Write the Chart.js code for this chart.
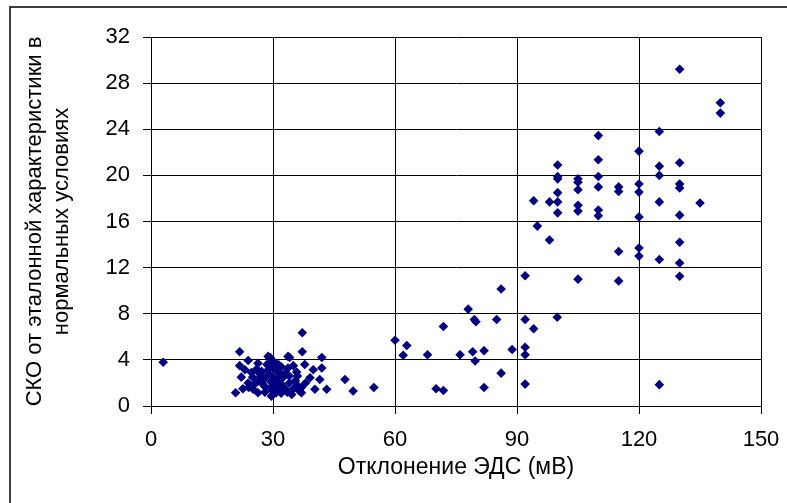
<!DOCTYPE html>
<html>
<head>
<meta charset="utf-8">
<script src="https://cdn.jsdelivr.net/npm/chart.js@4.4.0/dist/chart.umd.min.js"></script>
<style>
  html, body { margin: 0; padding: 0; background: #fff; }
  canvas { display: block; }
</style>
</head>
<body>
<canvas id="scatterChart" width="787" height="503"></canvas>
<script>
// Отклонение ЭДС (мВ) / СКО — кластер малых отклонений
const lowX = [3, 20.8, 21.8, 21.8, 22.2, 22.6, 23.1, 23.9, 23.9, 24.7, 25.1, 26.3, 26.3, 26.3, 27.2, 28, 28.8, 28.8, 29.3,
  29.6, 29.6, 30, 30, 30.8, 31.3, 31.7, 33.7, 33.7, 34.1, 34.6, 35.8, 37, 37, 37.2, 37.2, 37.8, 39.1, 39.9, 40.3, 41.5,
  42, 42, 43.2, 47.7, 49.7,
  25, 26, 27, 27.5, 28, 28.5, 29, 29.5, 30, 30, 30, 30.5, 31, 31, 31.5, 32, 32, 32.5, 33, 33, 34, 34, 35, 35, 35.5,
  36, 36, 25.5, 24, 28, 32, 33.5, 36.5, 38, 26.5, 29];
const lowY = [3.8, 1.15, 4.7, 3.5, 2.5, 1.5, 3.15, 3.95, 2.0, 2.9, 1.45, 3.7, 2.15, 1.15, 3.0, 1.7, 4.3, 3.15, 4.2,
  1.45, 0.85, 3.3, 1.0, 1.15, 3.6, 2.7, 4.3, 3.3, 4.2, 1.0, 2.95, 1.6, 1.15, 6.35, 4.7, 3.6, 2.45, 3.15, 1.45, 2.3,
  4.2, 3.3, 1.45, 2.3, 1.3,
  2.5, 3.2, 2.6, 1.9, 2.4, 3.6, 2.8, 2.1, 3.9, 2.5, 1.8, 1.4, 3.0, 2.2, 1.6, 3.4, 1.9, 2.5, 1.5, 2.9, 2.0, 2.6, 1.5, 3.5, 2.2,
  1.8, 2.6, 1.9, 1.6, 1.2, 1.1, 1.2, 1.3, 2.0, 2.9, 3.5];

// переходная зона
const midX = [54.8, 60, 62.9, 62, 68, 71.9, 70.1, 71.9, 76, 78, 79.5, 79.9, 79.1, 81.9, 79.7, 81.9, 85, 86.1, 86.1,
  88.8, 92, 92, 94.1, 99.9, 92, 92, 92];
const midY = [1.6, 5.7, 5.25, 4.4, 4.45, 6.9, 1.5, 1.35, 4.45, 8.4, 7.5, 7.3, 4.7, 4.8, 3.9, 1.6, 7.5, 10.15, 2.85,
  4.9, 11.3, 7.5, 6.7, 7.7, 5.1, 4.45, 1.9];

// большие отклонения
const highX = [94.1, 95, 98, 98, 100, 100, 100, 100, 100, 100, 105, 105, 105, 105, 105, 105, 110, 110, 110, 110, 110, 110,
  115, 115, 115, 115, 120, 120, 120, 120, 120, 120, 125, 125, 125, 125, 125, 125, 130, 130, 130, 130, 130, 130, 130, 130,
  135, 140, 140];
const highY = [17.8, 15.6, 17.7, 14.4, 20.9, 19.9, 19.7, 18.5, 17.7, 16.75, 19.7, 19.4, 18.75, 17.4, 16.9, 11.0, 23.45,
  21.35, 19.9, 19.0, 17.0, 16.5, 19.0, 18.6, 13.4, 10.85, 22.1, 19.25, 18.55, 16.4, 13.7, 13.0, 23.8, 20.8, 20.0, 17.7,
  12.7, 1.85, 29.2, 21.1, 19.25, 18.9, 16.55, 14.2, 12.4, 11.25, 17.6, 26.3, 25.4];

const xTicks = [0, 30, 60, 90, 120, 150];
const yTicks = [0, 4, 8, 12, 16, 20, 24, 28, 32];

const xTitle = "Отклонение ЭДС (мВ)";
const yTitle = ["СКО от эталонной характеристики в", "нормальных условиях"];

function toPoints(xs, ys) {
  return xs.map((x, i) => ({ x: x, y: ys[i] }));
}

const allPoints = [].concat(toPoints(lowX, lowY), toPoints(midX, midY), toPoints(highX, highY));

const FONT = "'Liberation Sans', Arial, sans-serif";

// рамка вокруг диаграммы (видны левая и верхняя стороны)
const framePlugin = {
  id: "frame",
  beforeDraw(chart) {
    const ctx = chart.ctx;
    ctx.save();
    ctx.fillStyle = "#fff";
    ctx.fillRect(0, 0, chart.width, chart.height);
    ctx.strokeStyle = "#000";
    ctx.lineWidth = 1.5;
    ctx.beginPath();
    ctx.moveTo(10, chart.height);
    ctx.lineTo(10, 7);
    ctx.lineTo(chart.width, 7);
    ctx.stroke();
    ctx.restore();
  },
};

new Chart(document.getElementById("scatterChart"), {
  type: "scatter",
  data: {
    datasets: [
      {
        data: allPoints,
        pointStyle: "rectRot",
        pointRadius: 4.8,
        pointHoverRadius: 4.8,
        pointBorderWidth: 0,
        backgroundColor: "#000080",
        borderColor: "#000080",
      },
    ],
  },
  options: {
    responsive: false,
    animation: false,
    events: [],
    layout: { padding: { left: 0, top: 37, right: 26, bottom: 0 } },
    plugins: { legend: { display: false }, tooltip: { enabled: false } },
    scales: {
      x: {
        type: "linear",
        min: 0,
        max: 150,
        afterBuildTicks: (scale) => { scale.ticks = xTicks.map((v) => ({ value: v })); },
        afterFit: (scale) => {
          scale.height = 97;
          scale.paddingLeft = 0;
          scale.paddingRight = 0;
        },
        ticks: { color: "#000", font: { family: FONT, size: 22 }, padding: 13 },
        grid: { color: "#000", lineWidth: 1, tickLength: 8, tickColor: "#000" },
        border: { color: "#000", width: 1 },
        title: {
          display: true,
          text: xTitle,
          color: "#000",
          font: { family: FONT, size: 23 },
          padding: { top: 22, bottom: 22 },
        },
      },
      y: {
        type: "linear",
        min: 0,
        max: 32,
        afterBuildTicks: (scale) => { scale.ticks = yTicks.map((v) => ({ value: v })); },
        afterFit: (scale) => {
          scale.width = 151;
          scale.paddingTop = 0;
          scale.paddingBottom = 0;
        },
        ticks: { color: "#000", font: { family: FONT, size: 22 }, padding: 13 },
        grid: { color: "#000", lineWidth: 1, tickLength: 8, tickColor: "#000" },
        border: { color: "#000", width: 1 },
        title: {
          display: true,
          text: yTitle,
          color: "#000",
          font: { family: FONT, size: 22, lineHeight: 1.25 },
          padding: { top: 21, bottom: 0 },
        },
      },
    },
  },
  plugins: [framePlugin],
});
</script>
</body>
</html>
